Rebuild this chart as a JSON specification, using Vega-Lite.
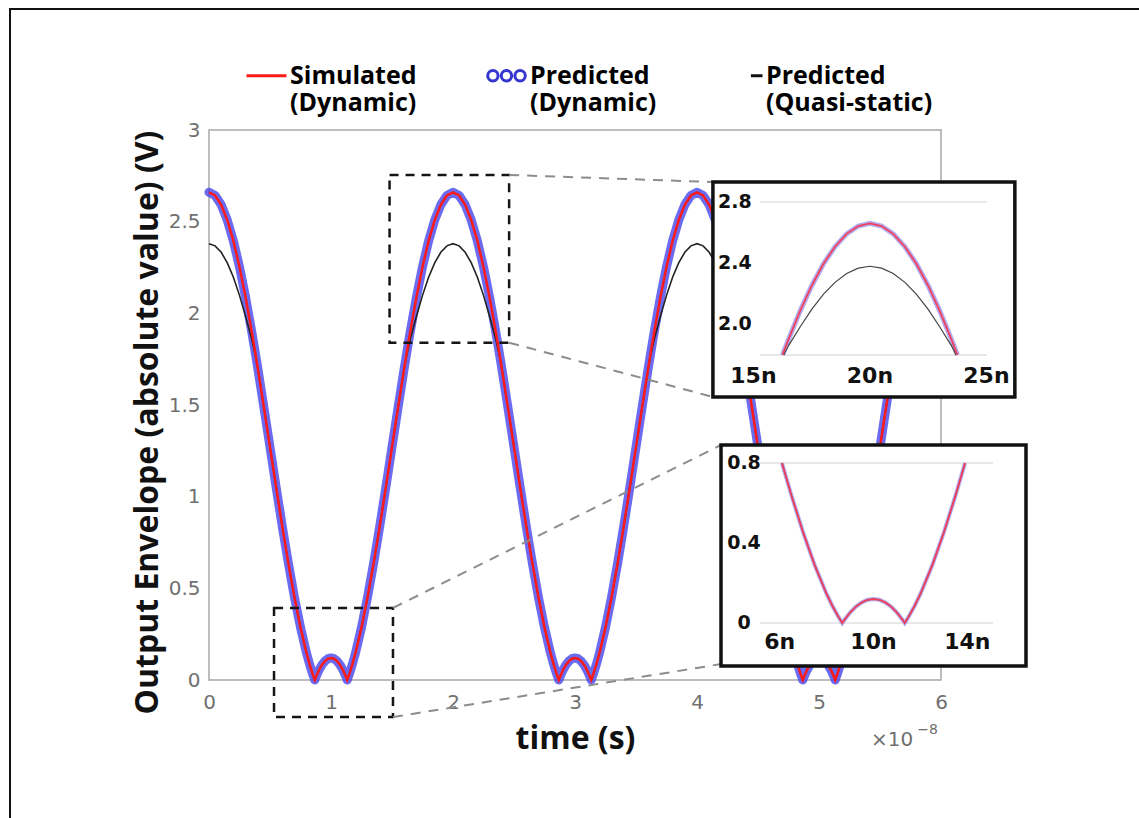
{
 "$schema": "https://vega.github.io/schema/vega-lite/v6.json",
 "width": 732, "height": 550,
 "autosize": {"type": "none"},
 "padding": {"left": 209, "top": 130, "right": 198, "bottom": 138},
 "background": "white",
 "config": {
  "view": {"stroke": "#a8a8a8", "strokeWidth": 1.5},
  "axis": {"grid": false, "domain": false, "ticks": false, "labelFlush": false, "labelFont": "DejaVu Sans", "labelFontSize": 20, "labelColor": "#707070", "titleFont": "Open Sans", "titleFontSize": 32, "titleFontWeight": "bold", "titleColor": "#111111"}
 },
 "datasets": {
  "envelope": [
   {"t":0,"sim":2.66,"pred":2.66,"qs":2.38},{"t":0.05,"sim":2.643,"pred":2.643,"qs":2.368},{"t":0.1,"sim":2.592,"pred":2.592,"qs":2.333},{"t":0.15,"sim":2.508,"pred":2.508,"qs":2.275},{"t":0.2,"sim":2.395,"pred":2.395,"qs":2.197},{"t":0.25,"sim":2.253,"pred":2.253,"qs":2.098},{"t":0.3,"sim":2.087,"pred":2.087,"qs":1.983},{"t":0.35,"sim":1.901,"pred":1.901,"qs":1.86},{"t":0.37,"sim":1.822,"pred":1.822,"qs":1.8},{"t":0.3755,"sim":1.8,"pred":1.8,"qs":1.785},{"t":0.4,"sim":1.7,"pred":1.7,"qs":1.7},{"t":0.45,"sim":1.487,"pred":1.487,"qs":1.487},{"t":0.5,"sim":1.27,"pred":1.27,"qs":1.27},{"t":0.55,"sim":1.053,"pred":1.053,"qs":1.053},{"t":0.6,"sim":0.84,"pred":0.84,"qs":0.84},{"t":0.6098,"sim":0.8,"pred":0.8,"qs":0.8},{"t":0.65,"sim":0.639,"pred":0.639,"qs":0.639},{"t":0.7,"sim":0.453,"pred":0.453,"qs":0.453},{"t":0.75,"sim":0.287,"pred":0.287,"qs":0.287},{"t":0.8,"sim":0.145,"pred":0.145,"qs":0.145},{"t":0.825,"sim":0.085,"pred":0.085,"qs":0.085},{"t":0.85,"sim":0.032,"pred":0.032,"qs":0.032},{"t":0.8668,"sim":0,"pred":0,"qs":0},{"t":0.875,"sim":0.014,"pred":0.014,"qs":0.014},{"t":0.9,"sim":0.052,"pred":0.052,"qs":0.052},{"t":0.925,"sim":0.082,"pred":0.082,"qs":0.082},{"t":0.95,"sim":0.103,"pred":0.103,"qs":0.103},{"t":0.975,"sim":0.116,"pred":0.116,"qs":0.116},
   {"t":1,"sim":0.12,"pred":0.12,"qs":0.12},{"t":1.025,"sim":0.116,"pred":0.116,"qs":0.116},{"t":1.05,"sim":0.103,"pred":0.103,"qs":0.103},{"t":1.075,"sim":0.082,"pred":0.082,"qs":0.082},{"t":1.1,"sim":0.052,"pred":0.052,"qs":0.052},{"t":1.125,"sim":0.014,"pred":0.014,"qs":0.014},{"t":1.1332,"sim":0,"pred":0,"qs":0},{"t":1.15,"sim":0.032,"pred":0.032,"qs":0.032},{"t":1.175,"sim":0.085,"pred":0.085,"qs":0.085},{"t":1.2,"sim":0.145,"pred":0.145,"qs":0.145},{"t":1.25,"sim":0.287,"pred":0.287,"qs":0.287},{"t":1.3,"sim":0.453,"pred":0.453,"qs":0.453},{"t":1.35,"sim":0.639,"pred":0.639,"qs":0.639},{"t":1.3902,"sim":0.8,"pred":0.8,"qs":0.8},{"t":1.4,"sim":0.84,"pred":0.84,"qs":0.84},{"t":1.45,"sim":1.053,"pred":1.053,"qs":1.053},{"t":1.5,"sim":1.27,"pred":1.27,"qs":1.27},{"t":1.55,"sim":1.487,"pred":1.487,"qs":1.487},{"t":1.6,"sim":1.7,"pred":1.7,"qs":1.7},{"t":1.6245,"sim":1.8,"pred":1.8,"qs":1.785},{"t":1.63,"sim":1.822,"pred":1.822,"qs":1.8},{"t":1.65,"sim":1.901,"pred":1.901,"qs":1.86},{"t":1.7,"sim":2.087,"pred":2.087,"qs":1.983},{"t":1.75,"sim":2.253,"pred":2.253,"qs":2.098},{"t":1.8,"sim":2.395,"pred":2.395,"qs":2.197},{"t":1.85,"sim":2.508,"pred":2.508,"qs":2.275},{"t":1.9,"sim":2.592,"pred":2.592,"qs":2.333},{"t":1.95,"sim":2.643,"pred":2.643,"qs":2.368},
   {"t":2,"sim":2.66,"pred":2.66,"qs":2.38},{"t":2.05,"sim":2.643,"pred":2.643,"qs":2.368},{"t":2.1,"sim":2.592,"pred":2.592,"qs":2.333},{"t":2.15,"sim":2.508,"pred":2.508,"qs":2.275},{"t":2.2,"sim":2.395,"pred":2.395,"qs":2.197},{"t":2.25,"sim":2.253,"pred":2.253,"qs":2.098},{"t":2.3,"sim":2.087,"pred":2.087,"qs":1.983},{"t":2.35,"sim":1.901,"pred":1.901,"qs":1.86},{"t":2.37,"sim":1.822,"pred":1.822,"qs":1.8},{"t":2.3755,"sim":1.8,"pred":1.8,"qs":1.785},{"t":2.4,"sim":1.7,"pred":1.7,"qs":1.7},{"t":2.45,"sim":1.487,"pred":1.487,"qs":1.487},{"t":2.5,"sim":1.27,"pred":1.27,"qs":1.27},{"t":2.55,"sim":1.053,"pred":1.053,"qs":1.053},{"t":2.6,"sim":0.84,"pred":0.84,"qs":0.84},{"t":2.6098,"sim":0.8,"pred":0.8,"qs":0.8},{"t":2.65,"sim":0.639,"pred":0.639,"qs":0.639},{"t":2.7,"sim":0.453,"pred":0.453,"qs":0.453},{"t":2.75,"sim":0.287,"pred":0.287,"qs":0.287},{"t":2.8,"sim":0.145,"pred":0.145,"qs":0.145},{"t":2.825,"sim":0.085,"pred":0.085,"qs":0.085},{"t":2.85,"sim":0.032,"pred":0.032,"qs":0.032},{"t":2.8668,"sim":0,"pred":0,"qs":0},{"t":2.875,"sim":0.014,"pred":0.014,"qs":0.014},{"t":2.9,"sim":0.052,"pred":0.052,"qs":0.052},{"t":2.925,"sim":0.082,"pred":0.082,"qs":0.082},{"t":2.95,"sim":0.103,"pred":0.103,"qs":0.103},{"t":2.975,"sim":0.116,"pred":0.116,"qs":0.116},
   {"t":3,"sim":0.12,"pred":0.12,"qs":0.12},{"t":3.025,"sim":0.116,"pred":0.116,"qs":0.116},{"t":3.05,"sim":0.103,"pred":0.103,"qs":0.103},{"t":3.075,"sim":0.082,"pred":0.082,"qs":0.082},{"t":3.1,"sim":0.052,"pred":0.052,"qs":0.052},{"t":3.125,"sim":0.014,"pred":0.014,"qs":0.014},{"t":3.1332,"sim":0,"pred":0,"qs":0},{"t":3.15,"sim":0.032,"pred":0.032,"qs":0.032},{"t":3.175,"sim":0.085,"pred":0.085,"qs":0.085},{"t":3.2,"sim":0.145,"pred":0.145,"qs":0.145},{"t":3.25,"sim":0.287,"pred":0.287,"qs":0.287},{"t":3.3,"sim":0.453,"pred":0.453,"qs":0.453},{"t":3.35,"sim":0.639,"pred":0.639,"qs":0.639},{"t":3.3902,"sim":0.8,"pred":0.8,"qs":0.8},{"t":3.4,"sim":0.84,"pred":0.84,"qs":0.84},{"t":3.45,"sim":1.053,"pred":1.053,"qs":1.053},{"t":3.5,"sim":1.27,"pred":1.27,"qs":1.27},{"t":3.55,"sim":1.487,"pred":1.487,"qs":1.487},{"t":3.6,"sim":1.7,"pred":1.7,"qs":1.7},{"t":3.6245,"sim":1.8,"pred":1.8,"qs":1.785},{"t":3.63,"sim":1.822,"pred":1.822,"qs":1.8},{"t":3.65,"sim":1.901,"pred":1.901,"qs":1.86},{"t":3.7,"sim":2.087,"pred":2.087,"qs":1.983},{"t":3.75,"sim":2.253,"pred":2.253,"qs":2.098},{"t":3.8,"sim":2.395,"pred":2.395,"qs":2.197},{"t":3.85,"sim":2.508,"pred":2.508,"qs":2.275},{"t":3.9,"sim":2.592,"pred":2.592,"qs":2.333},{"t":3.95,"sim":2.643,"pred":2.643,"qs":2.368},
   {"t":4,"sim":2.66,"pred":2.66,"qs":2.38},{"t":4.05,"sim":2.643,"pred":2.643,"qs":2.368},{"t":4.1,"sim":2.592,"pred":2.592,"qs":2.333},{"t":4.15,"sim":2.508,"pred":2.508,"qs":2.275},{"t":4.2,"sim":2.395,"pred":2.395,"qs":2.197},{"t":4.25,"sim":2.253,"pred":2.253,"qs":2.098},{"t":4.3,"sim":2.087,"pred":2.087,"qs":1.983},{"t":4.35,"sim":1.901,"pred":1.901,"qs":1.86},{"t":4.37,"sim":1.822,"pred":1.822,"qs":1.8},{"t":4.3755,"sim":1.8,"pred":1.8,"qs":1.785},{"t":4.4,"sim":1.7,"pred":1.7,"qs":1.7},{"t":4.45,"sim":1.487,"pred":1.487,"qs":1.487},{"t":4.5,"sim":1.27,"pred":1.27,"qs":1.27},{"t":4.55,"sim":1.053,"pred":1.053,"qs":1.053},{"t":4.6,"sim":0.84,"pred":0.84,"qs":0.84},{"t":4.6098,"sim":0.8,"pred":0.8,"qs":0.8},{"t":4.65,"sim":0.639,"pred":0.639,"qs":0.639},{"t":4.7,"sim":0.453,"pred":0.453,"qs":0.453},{"t":4.75,"sim":0.287,"pred":0.287,"qs":0.287},{"t":4.8,"sim":0.145,"pred":0.145,"qs":0.145},{"t":4.825,"sim":0.085,"pred":0.085,"qs":0.085},{"t":4.85,"sim":0.032,"pred":0.032,"qs":0.032},{"t":4.8668,"sim":0,"pred":0,"qs":0},{"t":4.875,"sim":0.014,"pred":0.014,"qs":0.014},{"t":4.9,"sim":0.052,"pred":0.052,"qs":0.052},{"t":4.925,"sim":0.082,"pred":0.082,"qs":0.082},{"t":4.95,"sim":0.103,"pred":0.103,"qs":0.103},{"t":4.975,"sim":0.116,"pred":0.116,"qs":0.116},
   {"t":5,"sim":0.12,"pred":0.12,"qs":0.12},{"t":5.025,"sim":0.116,"pred":0.116,"qs":0.116},{"t":5.05,"sim":0.103,"pred":0.103,"qs":0.103},{"t":5.075,"sim":0.082,"pred":0.082,"qs":0.082},{"t":5.1,"sim":0.052,"pred":0.052,"qs":0.052},{"t":5.125,"sim":0.014,"pred":0.014,"qs":0.014},{"t":5.1332,"sim":0,"pred":0,"qs":0},{"t":5.15,"sim":0.032,"pred":0.032,"qs":0.032},{"t":5.175,"sim":0.085,"pred":0.085,"qs":0.085},{"t":5.2,"sim":0.145,"pred":0.145,"qs":0.145},{"t":5.25,"sim":0.287,"pred":0.287,"qs":0.287},{"t":5.3,"sim":0.453,"pred":0.453,"qs":0.453},{"t":5.35,"sim":0.639,"pred":0.639,"qs":0.639},{"t":5.3902,"sim":0.8,"pred":0.8,"qs":0.8},{"t":5.4,"sim":0.84,"pred":0.84,"qs":0.84},{"t":5.45,"sim":1.053,"pred":1.053,"qs":1.053},{"t":5.5,"sim":1.27,"pred":1.27,"qs":1.27},{"t":5.55,"sim":1.487,"pred":1.487,"qs":1.487},{"t":5.6,"sim":1.7,"pred":1.7,"qs":1.7},{"t":5.6245,"sim":1.8,"pred":1.8,"qs":1.785},{"t":5.63,"sim":1.822,"pred":1.822,"qs":1.8},{"t":5.65,"sim":1.901,"pred":1.901,"qs":1.86},{"t":5.7,"sim":2.087,"pred":2.087,"qs":1.983},{"t":5.75,"sim":2.253,"pred":2.253,"qs":2.098},{"t":5.8,"sim":2.395,"pred":2.395,"qs":2.197},{"t":5.85,"sim":2.508,"pred":2.508,"qs":2.275},{"t":5.9,"sim":2.592,"pred":2.592,"qs":2.333},{"t":5.95,"sim":2.643,"pred":2.643,"qs":2.368},
   {"t":6,"sim":2.66,"pred":2.66,"qs":2.38}
  ],
  "legendItems": [{"series":"Simulated (Dynamic)"},{"series":"Predicted (Dynamic)"},{"series":"Predicted (Quasi-static)"}],
  "zoomBoxes": [{"x0":1.48,"x1":2.46,"y0":1.84,"y1":2.755},{"x0":0.533,"x1":1.508,"y0":-0.202,"y1":0.393}],
  "connectors": [{"x0":2.46,"y0":2.755,"x1":4.131,"y1":2.716},{"x0":2.46,"y0":1.84,"x1":4.131,"y1":1.544},{"x0":1.508,"y0":0.393,"x1":4.197,"y1":1.282},{"x0":1.508,"y0":-0.202,"x1":4.197,"y1":0.087}],
  "topTicksX": [{"v":1.5,"lab":"15n"},{"v":2.0,"lab":"20n"},{"v":2.5,"lab":"25n"}],
  "topTicksY": [{"v":2.0,"lab":"2.0"},{"v":2.4,"lab":"2.4"},{"v":2.8,"lab":"2.8"}],
  "botTicksX": [{"v":0.6,"lab":"6n"},{"v":1.0,"lab":"10n"},{"v":1.4,"lab":"14n"}],
  "botTicksY": [{"v":0,"lab":"0"},{"v":0.4,"lab":"0.4"},{"v":0.8,"lab":"0.8"}],
  "topGrid": [{"v":1.8},{"v":2.8}],
  "botGrid": [{"v":0},{"v":0.8}]
 },
 "layer": [
  {"data": {"name": "envelope"},
   "mark": {"type": "line", "color": "#4a4aee", "strokeWidth": 9, "opacity": 0.82, "strokeJoin": "round", "strokeCap": "round"},
   "encoding": {
    "x": {"field": "t", "type": "quantitative", "scale": {"domain": [0, 6], "nice": false, "zero": false},
          "axis": {"orient": "bottom", "title": "time (s)", "values": [0,1,2,3,4,5,6], "format": "d", "labelPadding": 12, "titleY": 58, "titleBaseline": "middle"}},
    "y": {"field": "pred", "type": "quantitative", "scale": {"domain": [0, 3], "nice": false, "zero": false},
          "axis": {"orient": "left", "title": "Output Envelope (absolute value) (V)", "values": [0,0.5,1,1.5,2,2.5,3], "format": "~g", "labelPadding": 9, "titleX": -62, "titleY": 292, "titleBaseline": "middle"}}}},
  {"data": {"name": "envelope"},
   "mark": {"type": "line", "color": "#222222", "strokeWidth": 1.6},
   "encoding": {"x": {"field": "t", "type": "quantitative", "scale": {"domain": [0, 6], "nice": false, "zero": false}, "axis": null},
                "y": {"field": "qs", "type": "quantitative", "scale": {"domain": [0, 3], "nice": false, "zero": false}, "axis": null}}},
  {"data": {"name": "envelope"},
   "mark": {"type": "line", "color": "#ff1a1a", "strokeWidth": 2.5},
   "encoding": {"x": {"field": "t", "type": "quantitative", "scale": {"domain": [0, 6], "nice": false, "zero": false}, "axis": null},
                "y": {"field": "sim", "type": "quantitative", "scale": {"domain": [0, 3], "nice": false, "zero": false}, "axis": null}}},
  {"data": {"name": "zoomBoxes"},
   "mark": {"type": "rect", "fill": "transparent", "stroke": "#151515", "strokeWidth": 2.5, "strokeDash": [9, 7]},
   "encoding": {"x": {"field": "x0", "type": "quantitative", "scale": {"domain": [0, 6], "nice": false, "zero": false}, "axis": null}, "x2": {"field": "x1"},
                "y": {"field": "y0", "type": "quantitative", "scale": {"domain": [0, 3], "nice": false, "zero": false}, "axis": null}, "y2": {"field": "y1"}}},
  {"data": {"name": "connectors"},
   "mark": {"type": "rule", "stroke": "#8c8c8c", "strokeWidth": 2, "strokeDash": [10, 8]},
   "encoding": {"x": {"field": "x0", "type": "quantitative", "scale": {"domain": [0, 6], "nice": false, "zero": false}, "axis": null}, "x2": {"field": "x1"},
                "y": {"field": "y0", "type": "quantitative", "scale": {"domain": [0, 3], "nice": false, "zero": false}, "axis": null}, "y2": {"field": "y1"}}},
  {"data": {"values": [{}]},
   "mark": {"type": "rect", "fill": "transparent", "stroke": "#111111", "strokeWidth": 2},
   "encoding": {"x": {"datum": -1.631, "type": "quantitative", "scale": {"domain": [0, 6], "nice": false, "zero": false}, "axis": null}, "x2": {"datum": 10},
                "y": {"datum": 3.66, "type": "quantitative", "scale": {"domain": [0, 3], "nice": false, "zero": false}, "axis": null}, "y2": {"datum": -3}}},
  {"data": {"values": [{}]},
   "mark": {"type": "text", "text": "×10", "font": "DejaVu Sans", "fontSize": 20, "color": "#707070", "baseline": "middle"},
   "encoding": {"x": {"datum": 5.6, "type": "quantitative", "scale": {"domain": [0, 6], "nice": false, "zero": false}, "axis": null},
                "y": {"datum": -0.327, "type": "quantitative", "scale": {"domain": [0, 3], "nice": false, "zero": false}, "axis": null}}},
  {"data": {"values": [{}]},
   "mark": {"type": "text", "text": "−8", "font": "DejaVu Sans", "fontSize": 14, "color": "#707070", "baseline": "middle"},
   "encoding": {"x": {"datum": 5.89, "type": "quantitative", "scale": {"domain": [0, 6], "nice": false, "zero": false}, "axis": null},
                "y": {"datum": -0.275, "type": "quantitative", "scale": {"domain": [0, 3], "nice": false, "zero": false}, "axis": null}}},
  {"data": {"name": "legendItems"},
   "mark": {"type": "point", "filled": false, "opacity": 0},
   "encoding": {
    "x": {"datum": 3, "type": "quantitative", "scale": {"domain": [0, 6], "nice": false, "zero": false}, "axis": null},
    "y": {"datum": 1.5, "type": "quantitative", "scale": {"domain": [0, 3], "nice": false, "zero": false}, "axis": null},
    "color": {"field": "series", "type": "nominal",
      "scale": {"domain": ["Simulated (Dynamic)", "Predicted (Dynamic)", "Predicted (Quasi-static)"], "range": ["#ff1a1a", "#3535d0", "#111111"]},
      "legend": {"orient": "none", "legendX": 36, "legendY": -76, "direction": "horizontal", "title": null, "padding": 0,
        "symbolSize": 1600, "symbolStrokeWidth": 3, "symbolOpacity": 1, "symbolFillColor": "transparent",
        "labelFont": "Open Sans", "labelFontSize": 25, "labelFontWeight": "bold", "labelLimit": 0, "labelOffset": 2, "columnPadding": 64,
        "labelExpr": "[slice(datum.label, 0, indexof(datum.label, ' (')), slice(datum.label, indexof(datum.label, ' (') + 1)]",
        "encode": {"labels": {"update": {"fill": {"signal": "datum.value === 'Simulated (Dynamic)' ? '#ff1a1a' : datum.value === 'Predicted (Dynamic)' ? '#3535d0' : '#111111'"}}}}}},
    "shape": {"field": "series", "type": "nominal",
      "scale": {"domain": ["Simulated (Dynamic)", "Predicted (Dynamic)", "Predicted (Quasi-static)"],
                "range": ["M-1,0H1", "M-0.94,0a0.26,0.26 0 1,0 0.52,0a0.26,0.26 0 1,0 -0.52,0M-0.26,0a0.26,0.26 0 1,0 0.52,0a0.26,0.26 0 1,0 -0.52,0M0.42,0a0.26,0.26 0 1,0 0.52,0a0.26,0.26 0 1,0 -0.52,0", "M0.42,0H1"]}}
   }},
  {"data": {"values": [{}]},
   "mark": {"type": "rect", "fill": "white", "stroke": "#111111", "strokeWidth": 3.5},
   "encoding": {"x": {"datum": 1.326, "type": "quantitative", "scale": {"domain": [-0.837, 2.305], "nice": false, "zero": false}, "axis": null}, "x2": {"datum": 2.622},
                "y": {"datum": 1.526, "type": "quantitative", "scale": {"domain": [-0.324, 3.2706], "nice": false, "zero": false}, "axis": null}, "y2": {"datum": 2.931}}},
  {"data": {"name": "topGrid"},
   "mark": {"type": "rule", "stroke": "#e0e0e0", "strokeWidth": 1.5},
   "encoding": {"x": {"datum": 1.528, "type": "quantitative", "scale": {"domain": [-0.837, 2.305], "nice": false, "zero": false}, "axis": null}, "x2": {"datum": 2.502},
                "y": {"field": "v", "type": "quantitative", "scale": {"domain": [-0.324, 3.2706], "nice": false, "zero": false}, "axis": null}}},
  {"data": {"name": "envelope"},
   "transform": [{"filter": "datum.t >= 1.5 && datum.t <= 2.5 && datum.pred >= 1.7999"}],
   "mark": {"type": "line", "color": "#b3abee", "strokeWidth": 5},
   "encoding": {"x": {"field": "t", "type": "quantitative", "scale": {"domain": [-0.837, 2.305], "nice": false, "zero": false}, "axis": null},
                "y": {"field": "pred", "type": "quantitative", "scale": {"domain": [-0.324, 3.2706], "nice": false, "zero": false}, "axis": null}}},
  {"data": {"name": "envelope"},
   "transform": [{"filter": "datum.t >= 1.5 && datum.t <= 2.5 && datum.qs >= 1.7999"}],
   "mark": {"type": "line", "color": "#444444", "strokeWidth": 1.2},
   "encoding": {"x": {"field": "t", "type": "quantitative", "scale": {"domain": [-0.837, 2.305], "nice": false, "zero": false}, "axis": null},
                "y": {"field": "qs", "type": "quantitative", "scale": {"domain": [-0.324, 3.2706], "nice": false, "zero": false}, "axis": null}}},
  {"data": {"name": "envelope"},
   "transform": [{"filter": "datum.t >= 1.5 && datum.t <= 2.5 && datum.sim >= 1.7999"}],
   "mark": {"type": "line", "color": "#f0405e", "strokeWidth": 1.8},
   "encoding": {"x": {"field": "t", "type": "quantitative", "scale": {"domain": [-0.837, 2.305], "nice": false, "zero": false}, "axis": null},
                "y": {"field": "sim", "type": "quantitative", "scale": {"domain": [-0.324, 3.2706], "nice": false, "zero": false}, "axis": null}}},
  {"data": {"name": "topTicksX"},
   "mark": {"type": "text", "font": "DejaVu Sans", "fontWeight": "bold", "fontSize": 22, "color": "#111111", "baseline": "middle"},
   "encoding": {"x": {"field": "v", "type": "quantitative", "scale": {"domain": [-0.837, 2.305], "nice": false, "zero": false}, "axis": null},
                "y": {"datum": 1.663, "type": "quantitative", "scale": {"domain": [-0.324, 3.2706], "nice": false, "zero": false}, "axis": null}, "text": {"field": "lab"}}},
  {"data": {"name": "topTicksY"},
   "mark": {"type": "text", "font": "DejaVu Sans", "fontWeight": "bold", "fontSize": 19, "color": "#111111", "baseline": "middle"},
   "encoding": {"x": {"datum": 1.4205, "type": "quantitative", "scale": {"domain": [-0.837, 2.305], "nice": false, "zero": false}, "axis": null},
                "y": {"field": "v", "type": "quantitative", "scale": {"domain": [-0.324, 3.2706], "nice": false, "zero": false}, "axis": null}, "text": {"field": "lab"}}},
  {"data": {"values": [{}]},
   "mark": {"type": "rect", "fill": "white", "stroke": "#111111", "strokeWidth": 3.5},
   "encoding": {"x": {"datum": 0.35, "type": "quantitative", "scale": {"domain": [-1.8325, 1.2877], "nice": false, "zero": false}, "axis": null}, "x2": {"datum": 1.65},
                "y": {"datum": -0.215, "type": "quantitative", "scale": {"domain": [-0.285, 2.465], "nice": false, "zero": false}, "axis": null}, "y2": {"datum": 0.89}}},
  {"data": {"name": "botGrid"},
   "mark": {"type": "rule", "stroke": "#e0e0e0", "strokeWidth": 1.5},
   "encoding": {"x": {"datum": 0.516, "type": "quantitative", "scale": {"domain": [-1.8325, 1.2877], "nice": false, "zero": false}, "axis": null}, "x2": {"datum": 1.509},
                "y": {"field": "v", "type": "quantitative", "scale": {"domain": [-0.285, 2.465], "nice": false, "zero": false}, "axis": null}}},
  {"data": {"name": "envelope"},
   "transform": [{"filter": "datum.t >= 0.5 && datum.t <= 1.5 && datum.pred <= 0.8001"}],
   "mark": {"type": "line", "color": "#b3abee", "strokeWidth": 4},
   "encoding": {"x": {"field": "t", "type": "quantitative", "scale": {"domain": [-1.8325, 1.2877], "nice": false, "zero": false}, "axis": null},
                "y": {"field": "pred", "type": "quantitative", "scale": {"domain": [-0.285, 2.465], "nice": false, "zero": false}, "axis": null}}},
  {"data": {"name": "envelope"},
   "transform": [{"filter": "datum.t >= 0.5 && datum.t <= 1.5 && datum.qs <= 0.8001"}],
   "mark": {"type": "line", "color": "#444444", "strokeWidth": 1.2},
   "encoding": {"x": {"field": "t", "type": "quantitative", "scale": {"domain": [-1.8325, 1.2877], "nice": false, "zero": false}, "axis": null},
                "y": {"field": "qs", "type": "quantitative", "scale": {"domain": [-0.285, 2.465], "nice": false, "zero": false}, "axis": null}}},
  {"data": {"name": "envelope"},
   "transform": [{"filter": "datum.t >= 0.5 && datum.t <= 1.5 && datum.sim <= 0.8001"}],
   "mark": {"type": "line", "color": "#f0405e", "strokeWidth": 1.8},
   "encoding": {"x": {"field": "t", "type": "quantitative", "scale": {"domain": [-1.8325, 1.2877], "nice": false, "zero": false}, "axis": null},
                "y": {"field": "sim", "type": "quantitative", "scale": {"domain": [-0.285, 2.465], "nice": false, "zero": false}, "axis": null}}},
  {"data": {"name": "botTicksX"},
   "mark": {"type": "text", "font": "DejaVu Sans", "fontWeight": "bold", "fontSize": 22, "color": "#111111", "baseline": "middle"},
   "encoding": {"x": {"field": "v", "type": "quantitative", "scale": {"domain": [-1.8325, 1.2877], "nice": false, "zero": false}, "axis": null},
                "y": {"datum": -0.095, "type": "quantitative", "scale": {"domain": [-0.285, 2.465], "nice": false, "zero": false}, "axis": null}, "text": {"field": "lab"}}},
  {"data": {"name": "botTicksY"},
   "mark": {"type": "text", "font": "DejaVu Sans", "fontWeight": "bold", "fontSize": 19, "color": "#111111", "baseline": "middle"},
   "encoding": {"x": {"datum": 0.448, "type": "quantitative", "scale": {"domain": [-1.8325, 1.2877], "nice": false, "zero": false}, "axis": null},
                "y": {"field": "v", "type": "quantitative", "scale": {"domain": [-0.285, 2.465], "nice": false, "zero": false}, "axis": null}, "text": {"field": "lab"}}}
 ],
 "resolve": {"scale": {"x": "independent", "y": "independent"}}
}
